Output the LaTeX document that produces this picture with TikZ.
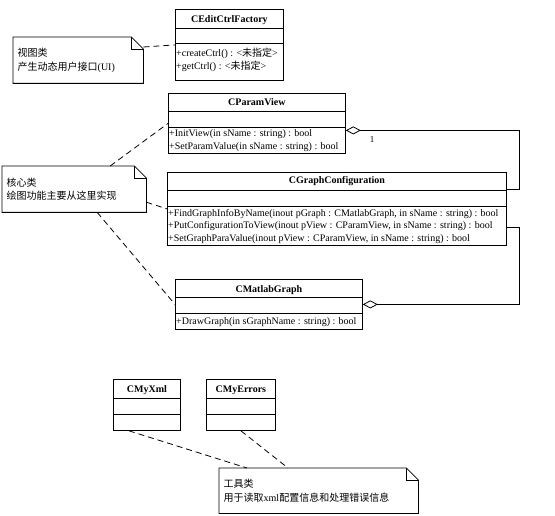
\documentclass[tikz,border=0pt]{standalone}
\usepackage{fontspec}
\setmainfont{Liberation Serif}
\newfontfamily\cjk{Noto Sans CJK SC}
\usetikzlibrary{arrows.meta}
\def\notefold#1{\draw[noteline] (#1.north west) -- ([xshift=-12]#1.north east) -- ([yshift=-12]#1.north east) -- (#1.south east) -- (#1.south west) -- cycle;
    \draw[noteline] ([xshift=-12]#1.north east) |- ([yshift=-12]#1.north east);}
\def\compart#1#2#3{\draw[noteline] ([yshift=-#2]#1.north west) -- ([yshift=-#2]#1.north east);
    \draw[noteline] ([yshift=-#3]#1.north west) -- ([yshift=-#3]#1.north east);}

\begin{document}
\begin{tikzpicture}[x=1pt,y=-1pt,
        box/.style={draw, line width=0.8pt, anchor=north west, inner sep=0pt},
        clsname/.style={anchor=base, font=\bfseries\fontsize{10}{12}\selectfont},
        ops/.style={anchor=north west, inner sep=0pt, align=left, font=\fontsize{10}{12.3}\selectfont},
        note/.style={anchor=north west, inner xsep=4.5pt, inner ysep=0pt, align=left, font=\cjk\fontsize{10}{13.5}\selectfont},
        noteline/.style={line width=0.8pt},
        tie/.style={line width=0.8pt, dash pattern=on 6pt off 4pt},
        agg/.style={line width=0.8pt}]
            \useasboundingbox (0,0) rectangle (555,516);
            % classes
            \node[box, minimum width=108, minimum height=71] (factory) at (175,9) {};
            \compart{factory}{19}{34}
            \node[clsname] (factoryname) at ([yshift=-13.5]factory.north) {CEditCtrlFactory};
            \node[ops, font=\fontsize{10}{13}\selectfont] (factoryops) at ([xshift=1,yshift=-39.3]factory.north west)
                {+createCtrl() : <{\cjk 未指定}>\\+getCtrl() : <{\cjk 未指定}>};

            \node[box, minimum width=177, minimum height=60] (pv) at (168,93) {};
            \compart{pv}{18}{34}
            \node[clsname] (pvname) at ([yshift=-12.5]pv.north) {CParamView};
            \node[ops, font=\fontsize{10}{13}\selectfont] (pvops) at ([xshift=1,yshift=-36.3]pv.north west)
                {+InitView(in sName : string) : bool\\+SetParamValue(in sName : string) : bool};

            \node[box, minimum width=339, minimum height=73] (gc) at (167,172) {};
            \compart{gc}{18}{34}
            \node[clsname] (gcname) at ([yshift=-12]gc.north) {CGraphConfiguration};
            \node[ops] (gcops) at ([xshift=1,yshift=-37.3]gc.north west)
                {+FindGraphInfoByName(inout pGraph : CMatlabGraph, in sName : string) : bool\\
                 +PutConfigurationToView(inout pView : CParamView, in sName : string) : bool\\
                 +SetGraphParaValue(inout pView : CParamView, in sName : string) : bool};

            \node[box, minimum width=187, minimum height=50] (matlab) at (175,279) {};
            \compart{matlab}{18}{34}
            \node[clsname] (matlabname) at ([yshift=-13]matlab.north) {CMatlabGraph};
            \node[ops] (matlabops) at ([xshift=1,yshift=-38.3]matlab.north west)
                {+DrawGraph(in sGraphName : string) : bool};

            \node[box, minimum width=67, minimum height=51] (myxml) at (113,379) {};
            \compart{myxml}{19}{35}
            \node[clsname] (myxmlname) at ([yshift=-13]myxml.north) {CMyXml};

            \node[box, minimum width=69, minimum height=51] (myerrors) at (206,379) {};
            \compart{myerrors}{19}{35}
            \node[clsname] (myerrorsname) at ([yshift=-13]myerrors.north) {CMyErrors};

            % notes
            \node[note, text width=121, minimum height=46] (viewnote) at (13,37)
                {视图类\\产生动态用户接口{\rmfamily (UI)}};
            \notefold{viewnote}
            \node[note, text width=135, minimum height=46] (corenote) at (2,166)
                {核心类\\绘图功能主要从这里实现};
            \notefold{corenote}
            \node[note, text width=190, minimum height=45] (toolnote) at (219,468)
                {工具类\\用于读取{\rmfamily xml}配置信息和处理错误信息};
            \notefold{toolnote}

            % note links
            \draw[tie] ([yshift=-10]viewnote.north east) -- (factory.west);
            \draw[tie] ([xshift=36]corenote.north) -- (pv.west);
            \draw[tie] ([yshift=-13]corenote.east) -- (gc.west);
            \draw[tie] ([xshift=23]corenote.south) -- (matlab.west);
            \draw[tie] ([xshift=-18]myxml.south) -- ([xshift=28]toolnote.north west);
            \draw[tie] (myerrors.south) -- ([xshift=69]toolnote.north west);

            % aggregations
            \draw[agg, {Diamond[open, length=15pt, width=8pt]}-] ([yshift=-7]pv.east) -- ++(174,0) |- ([yshift=-17]gc.north east);
            \node[font=\fontsize{9}{11}\selectfont] (mult) at (372,140) {1};
            \draw[agg, -{Diamond[open, length=15pt, width=8pt]}] ([yshift=-19]gc.east) -- ++(13,0) |- (matlab.east);
        \end{tikzpicture}
\end{document}
